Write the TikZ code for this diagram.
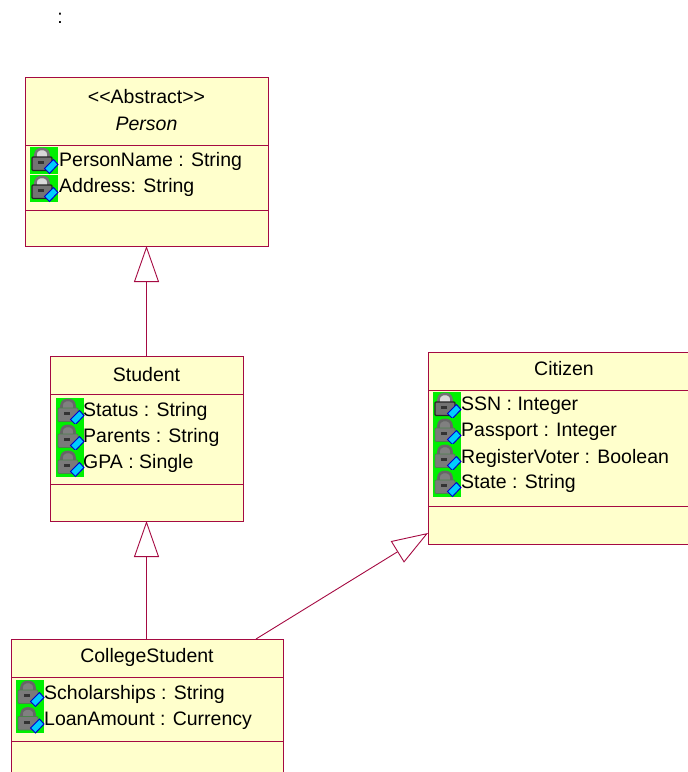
\documentclass[tikz,border=0pt]{standalone}
\usepackage{fontspec}
\setmainfont{Liberation Sans}
\usetikzlibrary{arrows.meta,
  calc,
  positioning
}
\definecolor{umlred}{HTML}{A50A42}
\definecolor{umlfill}{HTML}{FFFFCC}
\definecolor{iconkey}{HTML}{00CCFF}
\definecolor{icongreen}{HTML}{00F000}
\tikzset{
  umlbox/.style={draw=umlred,fill=umlfill,line width=1pt,anchor=north west,
    outer sep=0pt,inner sep=0pt},
  umlline/.style={draw=umlred,line width=0.9pt},
  inherit/.style={umlred,line width=0.9pt,
    -{Triangle[open,length=36pt,width=25pt,fill=white]}},
  attr/.style={anchor=base west,inner sep=0pt,font=\fontsize{19.5}{21}\selectfont},
  title/.style={anchor=base,inner sep=0pt,font=\fontsize{19.5}{21}\selectfont},
  sharplock/.style={fill=black!55,draw=black!85,line width=1.2pt},
  greylock/.style={fill=black!52,draw=green!30!black!70,line width=0.8pt}
}
% #1 position of top left corner, #2 style of body, #3 shackle colour, #4 inside of shackle
\newcommand*{\attrIcon}[4]{%
  \begin{scope}[shift={#1}]
    \fill[icongreen] (0,0) rectangle (28,26.5);
    \fill[#4] (5.5,13) -- (5.5,7.5) .. controls (5.5,0) and (18.5,0) .. (18.5,7.5) -- (18.5,13) -- cycle;
    \draw[#3,line width=2.6pt] (5.5,13) -- (5.5,7.5) .. controls (5.5,0) and (18.5,0) .. (18.5,7.5) -- (18.5,13);
    \path[#2,rounded corners=1pt] (2,10) rectangle (22,23.5);
    \fill[black!80] (8,14) rectangle (14,17);
    \fill[iconkey,draw=blue!80!black,line width=1pt]
    (14.5,21.5) -- (23.5,12.5) -- (28,17.5) -- (19.5,26.5) -- cycle;
  \end{scope}
}

\begin{document}
\begin{tikzpicture}[x=1pt,y=-1pt]
  \useasboundingbox (0,0) rectangle (688,772);
  \clip (0,0) rectangle (688,772);

  \node[title] (colon) at (60,23) {:};

  % classes
  \node[umlbox,minimum width=243pt,minimum height=169pt] (person) at (25,77) {};
  \node[umlbox,minimum width=193pt,minimum height=165pt] (student) at (50,356) {};
  \node[umlbox,minimum width=280pt,minimum height=192pt] (citizen) at (428,352) {};
  \node[umlbox,minimum width=272pt,minimum height=160pt] (collegestudent) at (11,639) {};

  \draw[umlline] (25,145) -- (268,145);
  \draw[umlline] (25,210) -- (268,210);
  \draw[umlline] (50,394) -- (243,394);
  \draw[umlline] (50,484) -- (243,484);
  \draw[umlline] (428,390) -- (688,390);
  \draw[umlline] (428,506) -- (688,506);
  \draw[umlline] (11,677) -- (283,677);
  \draw[umlline] (11,741) -- (283,741);

  % generalisations
  \coordinate (citizen port) at (428,533);
  \coordinate (college port) at (256,639);
  \draw[inherit] (student.north) -- (person.south);
  \draw[inherit] (collegestudent.north -| student.south) -- (student.south);
  \draw[inherit] (college port) -- (citizen port);

  % icons
  \attrIcon{(30,147)}{sharplock}{black!55}{black!15}
  \attrIcon{(30,175)}{sharplock}{black!55}{black!15}
  \attrIcon{(56,398)}{greylock}{black!60}{black!50}
  \attrIcon{(56,424)}{greylock}{black!60}{black!50}
  \attrIcon{(56,450)}{greylock}{black!60}{black!50}
  \attrIcon{(433,392)}{sharplock}{black!55}{black!15}
  \attrIcon{(433,418)}{greylock}{black!60}{black!50}
  \attrIcon{(433,444)}{greylock}{black!60}{black!50}
  \attrIcon{(433,470)}{greylock}{black!60}{black!50}
  \attrIcon{(16,680)}{greylock}{black!60}{black!50}
  \attrIcon{(16,706.5)}{greylock}{black!60}{black!50}

  % texts
  \node[title] (abstract) at (146.5,103) {<{}<Abstract>{}>};
  \node[title] (personname) at (146.5,130) {\itshape Person};
  \node[attr] (attrname) at (59,166) {PersonName : String};
  \node[attr] (attraddress) at (59,192) {Address: String};

  \node[title] (studentname) at (146.5,381) {Student};
  \node[attr] (attrstatus) at (83,416) {Status : String};
  \node[attr] (attrparents) at (83,442) {Parents : String};
  \node[attr] (attrgpa) at (83,468) {GPA : Single};

  \node[title] (citizenname) at (564,375) {Citizen};
  \node[attr] (attrssn) at (461,410) {SSN : Integer};
  \node[attr] (attrpassport) at (461,436) {Passport : Integer};
  \node[attr] (attrvoter) at (461,463) {RegisterVoter : Boolean};
  \node[attr] (attrstate) at (461,488) {State : String};

  \node[title] (collegename) at (147,662) {CollegeStudent};
  \node[attr] (attrscholar) at (44,699) {Scholarships : String};
  \node[attr] (attrloan) at (44,725) {LoanAmount : Currency};
\end{tikzpicture}
\end{document}
